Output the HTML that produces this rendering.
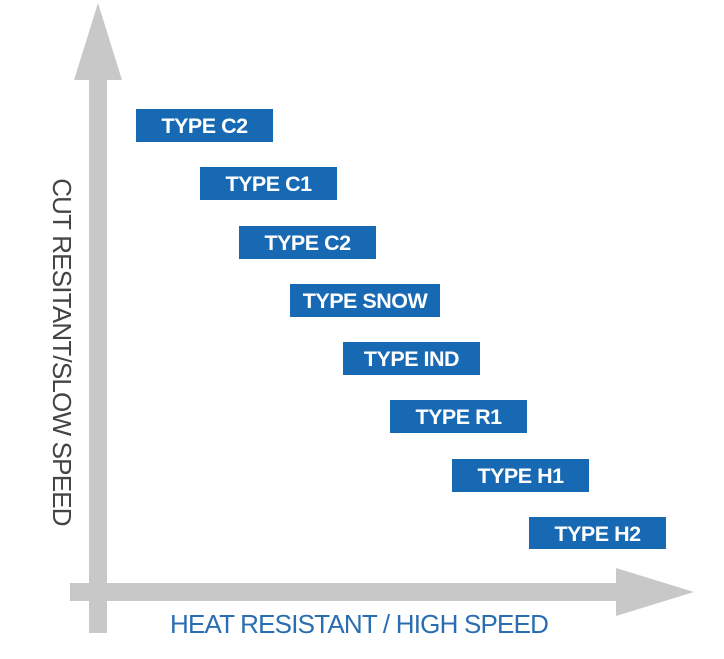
<!DOCTYPE html>
<html><head><style>
body{margin:0;width:724px;height:659px;background:#fff;position:relative;overflow:hidden;font-family:"Liberation Sans",Arial,sans-serif}
.b{position:absolute;width:137px;height:33px;background:#1769b3;color:#fff;font-weight:bold;font-size:21.5px;line-height:35px;text-align:center;letter-spacing:-0.5px}
</style></head><body>
<svg width="724" height="659" style="position:absolute;left:0;top:0">
<rect x="89" y="75" width="18" height="558" fill="#c8c8c8"/>
<polygon points="98,3 74,80 122,80" fill="#c8c8c8"/>
<rect x="70" y="583" width="550" height="18" fill="#c8c8c8"/>
<polygon points="694,592 616,568 616,616" fill="#c8c8c8"/>
</svg>
<div class="b" style="left:136px;top:109px">TYPE C2</div>
<div class="b" style="left:200px;top:167px">TYPE C1</div>
<div class="b" style="left:239px;top:226px">TYPE C2</div>
<div class="b" style="left:290px;top:284px;width:150px">TYPE SNOW</div>
<div class="b" style="left:343px;top:342px">TYPE IND</div>
<div class="b" style="left:390px;top:400px">TYPE R1</div>
<div class="b" style="left:452px;top:459px">TYPE H1</div>
<div class="b" style="left:529px;top:517px;height:32px;line-height:34px">TYPE H2</div>
<div style="position:absolute;left:170px;top:609px;font-size:26px;line-height:30px;color:#2a6db0;letter-spacing:-0.8px;white-space:nowrap">HEAT RESISTANT / HIGH SPEED</div>
<div style="position:absolute;left:62px;top:352px;width:400px;margin-left:-200px;text-align:center;transform:rotate(90deg);font-size:26px;line-height:26px;margin-top:-13px;color:#444;white-space:nowrap;letter-spacing:-0.8px">CUT RESITANT/SLOW SPEED</div>
</body></html>
